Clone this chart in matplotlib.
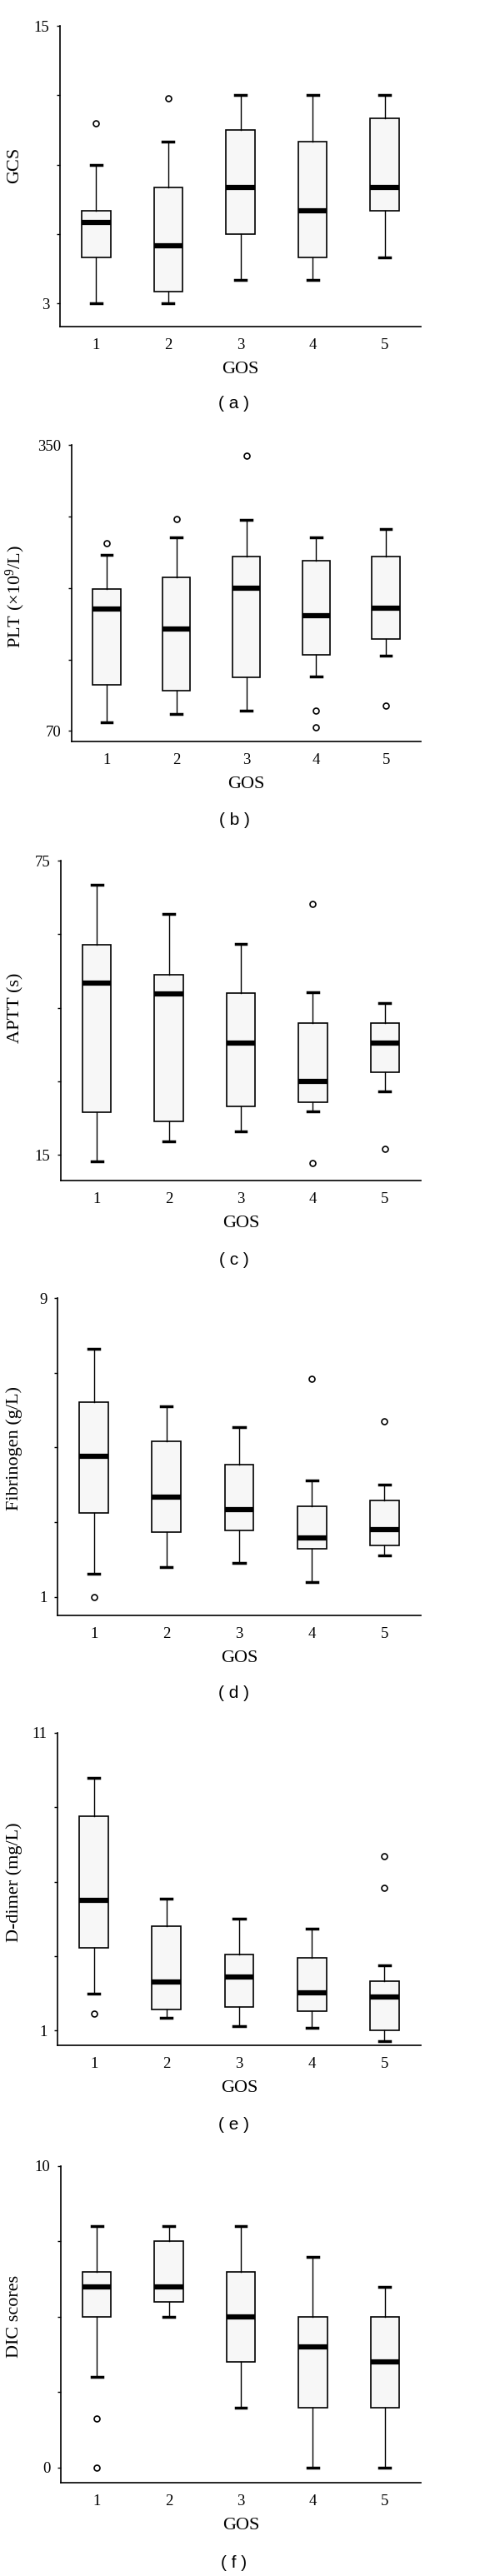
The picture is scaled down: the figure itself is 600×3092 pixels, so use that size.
import matplotlib
matplotlib.use("Agg")
import matplotlib.pyplot as plt

plt.rcParams['font.family'] = ['Liberation Serif', 'DejaVu Serif']
plt.rcParams['mathtext.fontset'] = 'custom'
plt.rcParams['mathtext.rm'] = 'Liberation Serif'
plt.rcParams['mathtext.it'] = 'Liberation Serif:italic'

gos = [1, 2, 3, 4, 5]

# GCS
gcs_lo = [3, 3, 4, 4, 5]
gcs_q1 = [5, 3.5, 6, 5, 7]
gcs_med = [6.5, 5.5, 8, 7, 8]
gcs_q3 = [7, 8, 10.5, 10, 11]
gcs_hi = [9, 10, 12, 12, 12]
gcs_out = [[10.8], [11.85], [], [], []]

# PLT
plt_lo = [78.7, 86.3, 89.6, 123.6, 143.4]
plt_q1 = [115.4, 109.1, 122.7, 144.8, 159.7]
plt_med = [189.3, 169.8, 209.7, 182.5, 190.2]
plt_q3 = [209.2, 220.6, 241, 236.4, 241]
plt_hi = [242.6, 259.5, 276.3, 259.5, 267.6]
plt_out = [[254], [277.1], [339.1], [89.6, 73.8], [95]]

# APTT
aptt_lo = [13.7, 17.7, 19.85, 23.9, 28]
aptt_q1 = [23.8, 21.8, 24.9, 25.7, 31.8]
aptt_med = [50, 47.8, 37.9, 30, 37.9]
aptt_q3 = [57.9, 51.8, 48, 41.9, 41.9]
aptt_hi = [70, 64.1, 58, 48.1, 46]
aptt_out = [[], [], [], [66.2, 13.3], [16.2]]

# Fibrinogen
fib_lo = [1.61, 1.8, 1.91, 1.4, 2.11]
fib_q1 = [3.24, 2.74, 2.78, 2.28, 2.37]
fib_med = [4.77, 3.67, 3.33, 2.57, 2.8]
fib_q3 = [6.21, 5.17, 4.54, 3.43, 3.57]
fib_hi = [7.63, 6.1, 5.54, 4.12, 4.0]
fib_out = [[1.0], [], [], [6.84], [5.69]]

# D-dimer
dd_lo = [2.24, 1.43, 1.15, 1.1, 0.63]
dd_q1 = [3.77, 1.71, 1.8, 1.66, 1.0]
dd_med = [5.38, 2.64, 2.8, 2.27, 2.13]
dd_q3 = [8.21, 4.51, 3.54, 3.43, 2.66]
dd_hi = [9.49, 5.43, 4.75, 4.42, 3.2]
dd_out = [[1.57], [], [], [], [6.86, 5.79]]

# DIC scores
dic_lo = [3, 5, 2, 0, 0]
dic_q1 = [5, 5.5, 3.5, 2, 2]
dic_med = [6, 6, 5, 4, 3.5]
dic_q3 = [6.5, 7.5, 6.5, 5, 5]
dic_hi = [8, 8, 8, 7, 6]
dic_out = [[1.64, 0], [], [], [], []]

panels = [
    ("GCS", gcs_lo, gcs_q1, gcs_med, gcs_q3, gcs_hi, gcs_out, [3, 6, 9, 12, 15], (2, 15), "( a )"),
    ("PLT (×10$^{\\mathrm{9}}$/L)", plt_lo, plt_q1, plt_med, plt_q3, plt_hi, plt_out, [70, 140, 210, 280, 350], (59.7, 350), "( b )"),
    ("APTT (s)", aptt_lo, aptt_q1, aptt_med, aptt_q3, aptt_hi, aptt_out, [15, 30, 45, 60, 75], (9.8, 75), "( c )"),
    ("Fibrinogen (g/L)", fib_lo, fib_q1, fib_med, fib_q3, fib_hi, fib_out, [1, 3, 5, 7, 9], (0.5, 9), "( d )"),
    ("D-dimer (mg/L)", dd_lo, dd_q1, dd_med, dd_q3, dd_hi, dd_out, [1, 3.5, 6, 8.5, 11], (0.5, 11), "( e )"),
    ("DIC scores", dic_lo, dic_q1, dic_med, dic_q3, dic_hi, dic_out, [0, 2.5, 5, 7.5, 10], (-0.5, 10), "( f )"),
]

# axes boxes in pixels: left, right, top, bottom ; ylabel pos ; caption y
boxes = [(72, 505, 31, 392), (86, 505, 534, 890), (73, 505, 1033, 1417),
         (69, 505, 1558, 1939), (69, 505, 2080, 2455), (73, 505, 2600, 2980)]
label_xy = [(-0.104, 0.535), (-0.129, 0.49), (-0.104, 0.539),
            (-0.096, 0.525), (-0.096, 0.523), (-0.106, 0.526)]
caption_y = [485, 985, 1512, 2032, 2550, 3077]

W, H = 600, 3092
fig = plt.figure(figsize=(W / 100, H / 100), dpi=100)

for i, (ylab, lo, q1, med, q3, hi, out, ticks, ylim, cap) in enumerate(panels):
    l, r, t, b = boxes[i]
    ax = fig.add_axes([l / W, 1 - b / H, (r - l) / W, (b - t) / H])
    stats = []
    for k in range(5):
        stats.append(dict(whislo=lo[k], q1=q1[k], med=med[k], q3=q3[k],
                          whishi=hi[k], fliers=out[k]))
    ax.bxp(stats, positions=gos, widths=0.4, capwidths=0.15, patch_artist=True,
           boxprops=dict(facecolor='#f7f7f7', edgecolor='black', linewidth=1.2),
           medianprops=dict(color='black', linewidth=4.5, solid_capstyle='butt'),
           whiskerprops=dict(color='black', linewidth=1.0),
           capprops=dict(color='black', linewidth=2.5),
           flierprops=dict(marker='o', markersize=5, markerfacecolor='white',
                           markeredgecolor='black', markeredgewidth=1.2))
    ax.set_xlim(0.5, 5.5)
    ax.set_ylim(*ylim)
    ax.set_yticks(ticks)
    ax.set_yticklabels([str(ticks[0])] + [''] * 3 + [str(ticks[-1])])
    ax.set_xticks(gos)
    ax.set_xticklabels([str(g) for g in gos])
    ax.tick_params(axis='y', direction='out', length=3, width=1, labelsize=13.5, pad=6)
    ax.tick_params(axis='x', length=0, labelsize=13.5, pad=10)
    for s in ['top', 'right']:
        ax.spines[s].set_visible(False)
    for s in ['left', 'bottom']:
        ax.spines[s].set_linewidth(1.2)
    ax.set_ylabel(ylab, fontsize=16)
    ax.yaxis.set_label_coords(*label_xy[i])
    ax.set_xlabel("GOS", fontsize=16, labelpad=8)
    fig.text(281 / W, 1 - caption_y[i] / H, cap, ha='center', va='center',
             fontsize=15, family=['Liberation Sans', 'DejaVu Sans'])

fig.savefig("out.png", dpi=100, facecolor='white')
